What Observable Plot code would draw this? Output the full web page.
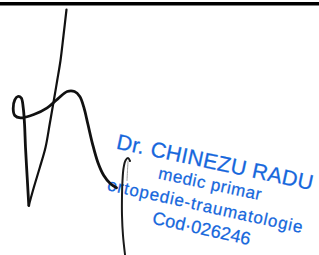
<!DOCTYPE html>
<html>
<head>
<meta charset="utf-8">
<script src="https://cdn.jsdelivr.net/npm/d3@7"></script>
<script src="https://cdn.jsdelivr.net/npm/@observablehq/plot@0.6"></script>
<style>
  html, body { margin: 0; padding: 0; background: #fff; }
  .l1 text { letter-spacing: 0.3px; }
  .l2 text { letter-spacing: 0.6px; }
  .l3 text { letter-spacing: 0.9px; }
  .l4 text { letter-spacing: 0.1px; }
</style>
</head>
<body>
<div id="chart"></div>
<script>
// Signature strokes (in pixel-like units)
const strokeA = [[66,9],[63,35],[60,60],[56.7,80],[53.3,100],[49.3,123],[45,147],[39.3,167],[33.3,187],[28.3,205]];
const strokeB = [[28.3,205],[26.7,177],[25,147],[24,123],[22.7,107],[20.7,97.3],[17.3,96],[14.3,99.3],[12.7,108],[14.3,115],[20,117.3],[33.3,114],[46.7,107.3],[57.3,98.3],[66.7,91],[74,91],[79.3,96],[83.3,106.7],[87.3,123.3],[92,143.3],[97.3,161.7],[103.3,175],[110,183.3],[116,187.3]];
const strokeC = [[129.5,160.5],[127.5,157.5],[125,160],[123,168],[122,180],[121.5,195],[121.5,215],[122.5,235],[124.5,254]];
const strokeD = [[127.5,161],[127,170],[126.5,180]];
const topLineY = 3.3;

// Stamp text
const stampLines = ["Dr. CHINEZU RADU", "medic primar", "ortopedie-traumatologie", "Cod\u00B7026246"];
const stampX = [115, 157, 106, 151];
const stampY = [148, 178, 189.5, 223];
const stampSize = [21.5, 17, 17, 18];
const stampAngle = [12, 12, 12.5, 12.5];

const blue = "#1667dc";
const ink = "#111";

const toObj = (pts, id) => pts.map(([x, y]) => ({x, y, id}));

const textMarks = stampLines.map((t, i) =>
  Plot.text([{x: stampX[i], y: stampY[i], t}], {
    x: "x", y: "y", text: "t",
    textAnchor: "start", lineAnchor: "bottom",
    rotate: stampAngle[i], fontSize: stampSize[i],
    fill: blue, stroke: blue, strokeWidth: 0.25,
    fontFamily: "Liberation Sans, Arial, sans-serif",
    className: "l" + (i + 1)
  })
);

const plot = Plot.plot({
  width: 319, height: 255,
  margin: 0,
  x: {domain: [0, 319], range: [0, 319], axis: null},
  y: {domain: [0, 255], range: [0, 255], axis: null},
  style: {background: "#fff", fontFamily: "Liberation Sans, Arial, sans-serif"},
  marks: [
    Plot.ruleY([topLineY], {x1: 0, x2: 319, stroke: "#000", strokeWidth: 3.5}),
    ...textMarks,
    Plot.line(toObj(strokeA, "A"), {x: "x", y: "y", curve: "catmull-rom", stroke: ink, strokeWidth: 2.2, strokeLinecap: "round"}),
    Plot.line(toObj(strokeB, "B"), {x: "x", y: "y", curve: "catmull-rom", stroke: ink, strokeWidth: 2.8, strokeLinecap: "round"}),
    Plot.line(toObj(strokeC, "C"), {x: "x", y: "y", curve: "catmull-rom", stroke: "#1a1a1a", strokeWidth: 2, strokeLinecap: "round"}),
    Plot.line(toObj(strokeD, "D"), {x: "x", y: "y", curve: "catmull-rom", stroke: "#999", strokeWidth: 1, strokeLinecap: "round"})
  ]
});
document.getElementById("chart").appendChild(plot);
</script>
</body>
</html>
